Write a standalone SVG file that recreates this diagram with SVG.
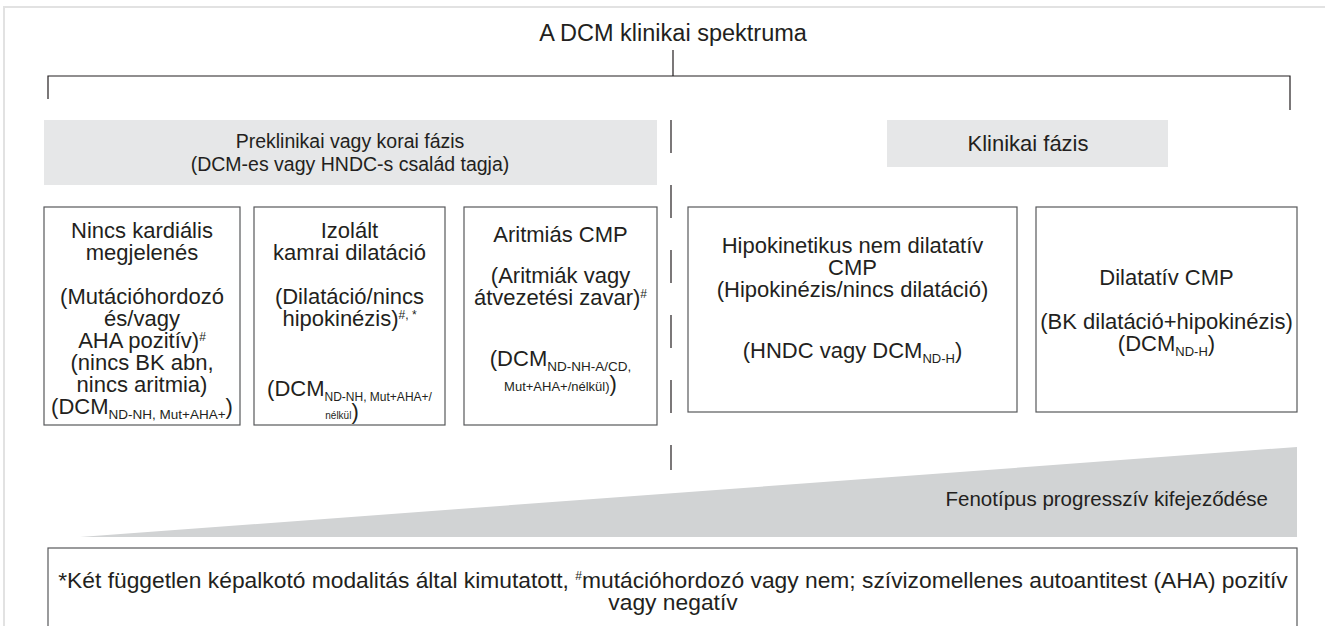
<svg xmlns="http://www.w3.org/2000/svg" width="1325" height="626" viewBox="0 0 1325 626">
<style>
text{font-family:"Liberation Sans",Arial,sans-serif;fill:#231f20;font-size:22px;text-anchor:middle}
.box{fill:#fff;stroke:#58595b;stroke-width:1.2}
.band{fill:#e6e7e8}
.ln{stroke:#231f20;stroke-width:1.2;fill:none}
.sub{font-size:13.5px}
.sup{font-size:12px}
.bt{font-size:19.5px}
.ttl{font-size:23.5px}
.fen{font-size:20.5px;text-anchor:end}
.fn{font-size:22.8px}
</style>
<rect width="1325" height="626" fill="#fff"/>
<path d="M4,626 V7 H1325" fill="none" stroke="#e2e2e2" stroke-width="2"/>
<g id="title"><text class="ttl" x="673" y="41">A DCM klinikai spektruma</text></g>
<g id="connectors">
<path class="ln" d="M673,50 V76 M48,99 V76 H1290 V110"/>
<path class="ln" d="M671,120 V470" stroke-dasharray="33 32"/>
</g>
<g id="preclinical">
<rect class="band" x="44" y="120" width="613" height="65"/>
<text class="bt" x="350" y="148">Preklinikai vagy korai fázis</text>
<text class="bt" x="350" y="171">(DCM-es vagy HNDC-s család tagja)</text>
</g>
<g id="clinical">
<rect class="band" x="887" y="120" width="281" height="47"/>
<text x="1028" y="151">Klinikai fázis</text>
</g>
<g id="box1">
<rect class="box" x="44" y="207" width="196" height="218"/>
<text x="142" y="238">Nincs kardiális</text>
<text x="142" y="260">megjelenés</text>
<text x="142" y="304">(Mutációhordozó</text>
<text x="142" y="326">és/vagy</text>
<text x="142" y="348">AHA pozitív)<tspan class="sup" dy="-7">#</tspan></text>
<text x="142" y="370">(nincs BK abn,</text>
<text x="142" y="392">nincs aritmia)</text>
<text x="142" y="414">(DCM<tspan class="sub" dy="5">ND-NH, Mut+AHA+</tspan><tspan dy="-5">)</tspan></text>
</g>
<g id="box2">
<rect class="box" x="254" y="207" width="191" height="218"/>
<text x="349.5" y="238">Izolált</text>
<text x="349.5" y="260">kamrai dilatáció</text>
<text x="349.5" y="304">(Dilatáció/nincs</text>
<text x="349.5" y="326">hipokinézis)<tspan class="sup" dy="-7">#, *</tspan></text>
<text x="349.5" y="396">(DCM<tspan style="font-size:12px" dy="5">ND-NH, Mut+AHA+/</tspan></text>
<text x="342" y="419"><tspan style="font-size:10px">nélkül</tspan>)</text>
</g>
<g id="box3">
<rect class="box" x="464" y="207" width="193" height="218"/>
<text x="560.5" y="242">Aritmiás CMP</text>
<text x="560.5" y="283">(Aritmiák vagy</text>
<text x="560.5" y="305">átvezetési zavar)<tspan class="sup" dy="-7">#</tspan></text>
<text x="560.5" y="366">(DCM<tspan class="sub" dy="5">ND-NH-A/CD,</tspan></text>
<text x="560.5" y="391"><tspan style="font-size:13px">Mut+AHA+/nélkül)</tspan>)</text>
</g>
<g id="box4">
<rect class="box" x="688" y="207" width="329" height="205"/>
<text x="852.5" y="253">Hipokinetikus nem dilatatív</text>
<text x="852.5" y="275">CMP</text>
<text x="852.5" y="297">(Hipokinézis/nincs dilatáció)</text>
<text x="852.5" y="358">(HNDC vagy DCM<tspan style="font-size:13px" dy="5">ND-H</tspan><tspan dy="-5">)</tspan></text>
</g>
<g id="box5">
<rect class="box" x="1036" y="207" width="261" height="205"/>
<text x="1166.5" y="285">Dilatatív CMP</text>
<text x="1166.5" y="329">(BK dilatáció+hipokinézis)</text>
<text x="1166.5" y="351">(DCM<tspan style="font-size:13px" dy="5">ND-H</tspan><tspan dy="-5">)</tspan></text>
</g>
<g id="progression">
<polygon points="80,537 1297,447 1297,537" fill="#d1d3d4"/>
<text class="fen" x="1268" y="506">Fenotípus progresszív kifejeződése</text>
</g>
<g id="footnote">
<rect class="box" x="48" y="548" width="1249" height="90"/>
<text class="fn" x="673" y="588">*Két független képalkotó modalitás által kimutatott, <tspan class="sup" dy="-8">#</tspan><tspan dy="8">mutációhordozó vagy nem; szívizomellenes autoantitest (AHA) pozitív</tspan></text>
<text class="fn" x="673" y="610">vagy negatív</text>
</g>
</svg>
